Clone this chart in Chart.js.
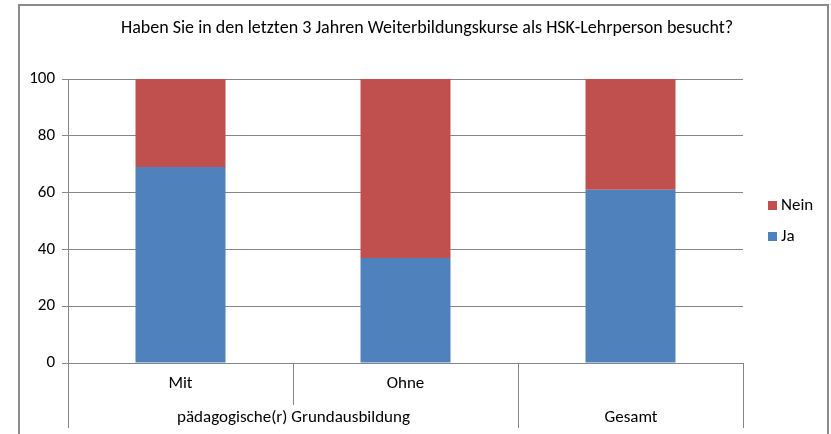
<!DOCTYPE html>
<html>
<head>
<meta charset="utf-8">
<script src="https://cdn.jsdelivr.net/npm/chart.js@4"></script>
<style>
  html, body { margin: 0; padding: 0; background: #fff; }
  #wrap { width: 831px; height: 434px; position: relative; }
</style>
</head>
<body>
<div id="wrap"><canvas id="chart" width="831" height="434"></canvas></div>
<script>
var titleText = 'Haben Sie in den letzten 3 Jahren Weiterbildungskurse als HSK-Lehrperson besucht?';
var categories = ['Mit', 'Ohne', ''];
var groups = [
    { label: 'pädagogische(r) Grundausbildung', from: 0, to: 1 },
    { label: 'Gesamt', from: 2, to: 2 }
];
var jaValues = [69, 37, 61];
var neinValues = [31, 63, 39];
var yTicks = [0, 20, 40, 60, 80, 100];

var fontFamily = 'Carlito, "Liberation Sans Narrow", "Open Sans", sans-serif';
var lineColor = '#868686';

// draws title, outer frame, grouped category axis and legend
var excelBits = {
    id: 'excelBits',
    afterDraw: function (chart) {
        var ctx = chart.ctx;
        var x = chart.scales.x;
        var area = chart.chartArea;
        ctx.save();

        // frame
        ctx.strokeStyle = '#8a8a8a';
        ctx.lineWidth = 2;
        ctx.strokeRect(19, 5, 809, 440);

        // title
        ctx.fillStyle = '#000';
        ctx.font = '18px ' + fontFamily;
        ctx.textAlign = 'center';
        ctx.textBaseline = 'middle';
        ctx.fillText(titleText, 427, 28);

        // category borders
        var half = (x.getPixelForValue(1) - x.getPixelForValue(0)) / 2;
        var edge = function (i) { return Math.round(x.getPixelForValue(i) - half) + 0.5; };
        var innerBottom = area.bottom + 42;
        var outerBottom = area.bottom + 65;
        ctx.strokeStyle = lineColor;
        ctx.lineWidth = 1;
        ctx.beginPath();
        for (var i = 0; i <= categories.length; i++) {
            var isGroupEdge = i === 0 || i === categories.length || groups.some(function (g) { return g.from === i; });
            ctx.moveTo(edge(i), area.bottom);
            ctx.lineTo(edge(i), isGroupEdge ? outerBottom : innerBottom);
        }
        ctx.stroke();

        // labels
        ctx.font = '17px ' + fontFamily;
        ctx.fillStyle = '#000';
        categories.forEach(function (c, i) {
            ctx.fillText(c, x.getPixelForValue(i), area.bottom + 21);
        });
        groups.forEach(function (g) {
            var cx = (edge(g.from) + edge(g.to + 1)) / 2;
            ctx.fillText(g.label, cx, area.bottom + 55);
        });

        // legend (reverse order like the original)
        var sets = chart.data.datasets.slice().reverse();
        ctx.textAlign = 'left';
        sets.forEach(function (ds, i) {
            var ly = 206 + i * 31;
            ctx.fillStyle = ds.backgroundColor;
            ctx.fillRect(768, ly - 5, 9, 9);
            ctx.fillStyle = '#000';
            ctx.fillText(ds.label, 781, ly);
        });
        ctx.restore();
    }
};

new Chart(document.getElementById('chart'), {
    type: 'bar',
    data: {
        labels: categories,
        datasets: [
            { label: 'Ja', data: jaValues, backgroundColor: '#4F81BD' },
            { label: 'Nein', data: neinValues, backgroundColor: '#C0504D' }
        ]
    },
    options: {
        responsive: false,
        animation: false,
        layout: { padding: { top: 79, right: 88, bottom: 71, left: 0 } },
        categoryPercentage: 0.4,
        barPercentage: 1,
        plugins: {
            legend: { display: false },
            title: { display: false },
            tooltip: { enabled: false }
        },
        scales: {
            x: { stacked: true, display: false },
            y: {
                stacked: true,
                min: 0,
                max: 100,
                afterFit: function (scale) { scale.width = 68; },
                afterBuildTicks: function (scale) {
                    scale.ticks = yTicks.map(function (v) { return { value: v }; });
                },
                border: { display: true, color: lineColor, width: 1 },
                grid: { color: lineColor, tickLength: 6, drawTicks: true },
                ticks: {
                    padding: 7,
                    color: '#000',
                    font: { family: fontFamily, size: 17 }
                }
            }
        }
    },
    plugins: [excelBits]
});
</script>
</body>
</html>
